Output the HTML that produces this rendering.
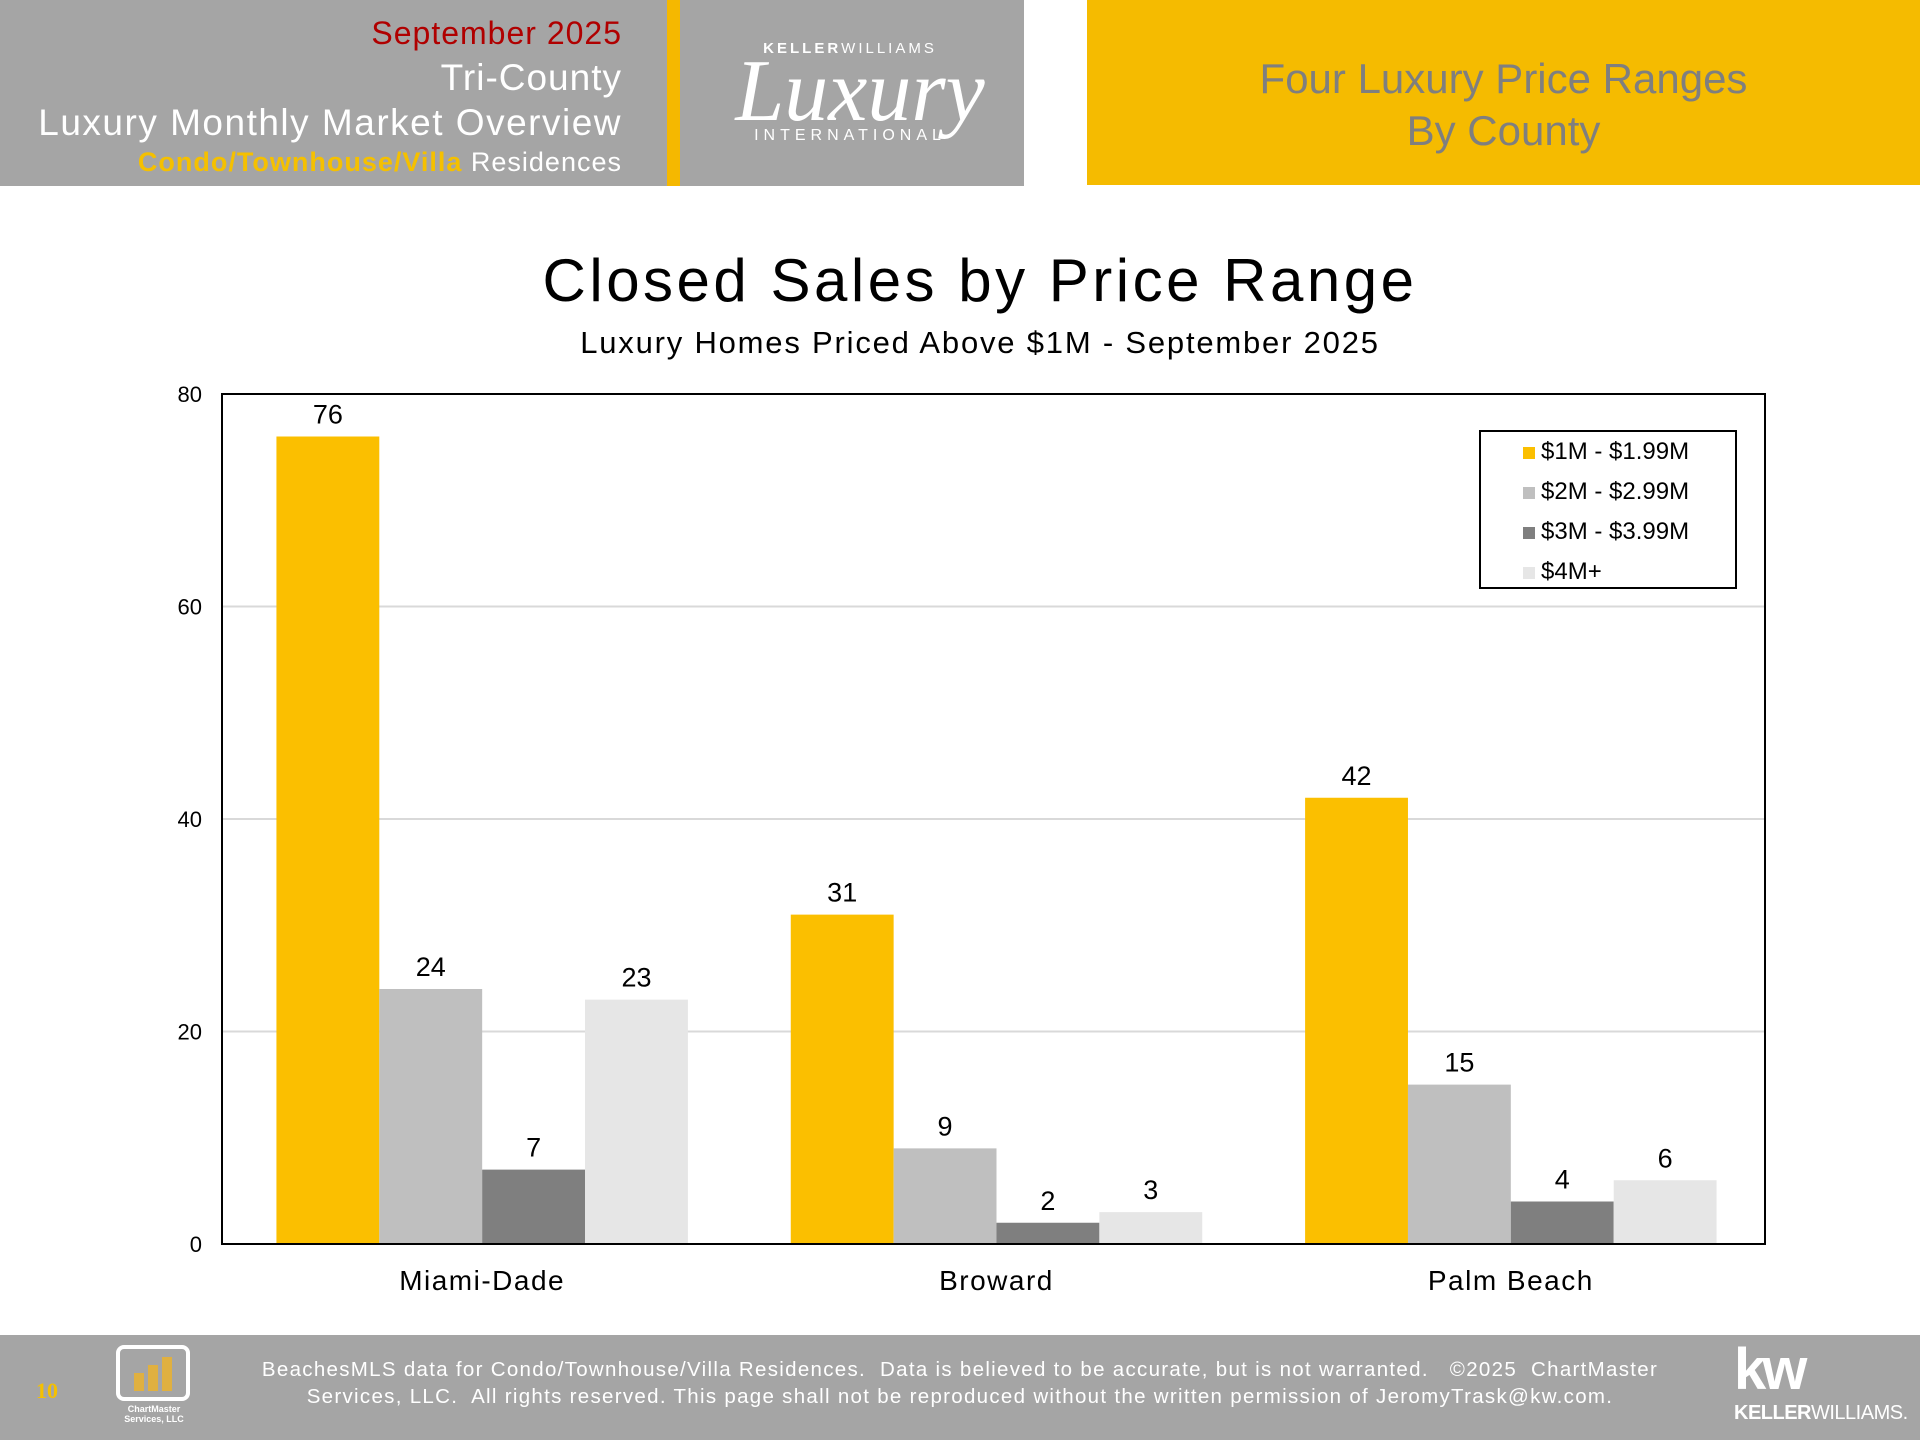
<!DOCTYPE html>
<html><head><meta charset="utf-8"><style>
*{margin:0;padding:0;box-sizing:border-box}
body{width:1920px;height:1440px;background:#fff;position:relative;overflow:hidden;font-family:"Liberation Sans","DejaVu Sans",sans-serif}
.abs{position:absolute}
</style></head><body>
<div class="abs" style="left:0;top:0;width:1024px;height:186px;background:#a5a5a5"></div>
<div class="abs" style="left:667px;top:0;width:13px;height:186px;background:#f5b800"></div>
<div class="abs" style="right:1298px;top:17px;text-align:right;color:#fff;line-height:1;letter-spacing:1px">
<div style="color:#b00000;font-size:32px;height:42px">September 2025</div>
<div style="font-size:37px;height:45px">Tri-County</div>
<div style="font-size:37px;height:45px;letter-spacing:1.5px">Luxury Monthly Market Overview</div>
<div style="font-size:27px"><b style="color:#f5c000">Condo/Townhouse/Villa</b> Residences</div>
</div>
<div class="abs" style="left:700px;top:40px;width:320px;color:#fff;text-align:center">
<div style="font-size:15px;letter-spacing:3px;margin-left:-20px"><b>KELLER</b>WILLIAMS</div>
<div style="font-family:'Liberation Serif',serif;font-style:italic;font-size:88px;line-height:70px;margin-left:0px">Luxury</div>
<div style="font-size:16px;letter-spacing:5px;margin-left:-20px">INTERNATIONAL</div>
</div>
<div class="abs" style="left:1087px;top:0;width:833px;height:185px;background:#f5bb00;color:#7f7f7f;text-align:center;font-size:42px;line-height:52px;padding-top:53px">
<div>Four Luxury Price Ranges<br>By County</div>
</div>

<div class="abs" style="left:0;width:1960px;top:246px;text-align:center;font-size:60px;letter-spacing:3.5px;color:#000">Closed Sales by Price Range</div>
<div class="abs" style="left:0;width:1960px;top:325px;text-align:center;font-size:31px;letter-spacing:1.8px;color:#000">Luxury Homes Priced Above $1M - September 2025</div>

<svg class="abs" id="chart" style="left:0;top:0" width="1920" height="1440"></svg>

<div class="abs" style="left:1479px;top:430px;width:258px;height:159px;border:2px solid #000;background:#fff;font-size:24px;padding:0 0 0 42px;line-height:40px">
<div><span style="display:inline-block;width:12px;height:12px;background:#fbbf00;margin-right:6px"></span>$1M - $1.99M</div>
<div><span style="display:inline-block;width:12px;height:12px;background:#bfbfbf;margin-right:6px"></span>$2M - $2.99M</div>
<div><span style="display:inline-block;width:12px;height:12px;background:#7f7f7f;margin-right:6px"></span>$3M - $3.99M</div>
<div><span style="display:inline-block;width:12px;height:12px;background:#e6e6e6;margin-right:6px"></span>$4M+</div>
</div>

<div class="abs" style="left:0;top:1335px;width:1920px;height:105px;background:#a5a5a5"></div>
<div class="abs" style="left:36px;top:1378px;color:#f5c000;font-family:'Liberation Serif',serif;font-weight:bold;font-size:22px">10</div>
<div class="abs" style="left:116px;top:1345px;width:74px;height:56px;border:4px solid #fff;border-radius:8px">
<div style="position:absolute;left:14px;bottom:6px;width:10px;height:18px;background:#e0b040"></div>
<div style="position:absolute;left:28px;bottom:6px;width:10px;height:26px;background:#e0b040"></div>
<div style="position:absolute;left:42px;bottom:6px;width:10px;height:34px;background:#e0b040"></div>
</div>
<div class="abs" style="left:112px;top:1404px;width:84px;text-align:center;color:#fff;font-size:9px;line-height:10px;font-weight:bold">ChartMaster<br>Services, LLC</div>
<div class="abs" style="left:160px;width:1600px;top:1356px;text-align:center;color:#fff;font-size:20.5px;letter-spacing:1.3px;line-height:27px">BeachesMLS data for Condo/Townhouse/Villa Residences.&nbsp; Data is believed to be accurate, but is not warranted.&nbsp;&nbsp; ©2025&nbsp; ChartMaster<br>Services, LLC.&nbsp; All rights reserved. This page shall not be reproduced without the written permission of JeromyTrask@kw.com.</div>
<div class="abs" style="left:1734px;top:1336px;color:#fff;font-size:58px;font-weight:bold;letter-spacing:-4px">kw</div>
<div class="abs" style="left:1734px;top:1402px;color:#fff;font-size:20px;letter-spacing:-0.5px"><b>KELLER</b>WILLIAMS.</div>

<script>
const categories = ["Miami-Dade","Broward","Palm Beach"];
const series1M = [76,31,42];
const series2M = [24,9,15];
const series3M = [7,2,4];
const series4M = [23,3,6];
const yTicks = [0,20,40,60,80];
const seriesNames = ["1m","2m","3m","4m"];
const colors = ["#fbbf00","#bfbfbf","#7f7f7f","#e6e6e6"];
const allSeries = [series1M,series2M,series3M,series4M];

const svg = document.getElementById('chart');
const NS = "http://www.w3.org/2000/svg";
const L=222, R=1765, T=394, B=1244, yMax=80;
const y = v => B - (v/yMax)*(B-T);
const groupW = (R-L)/categories.length;
const barW = groupW*0.8/allSeries.length;
const x = (ci,si) => L + ci*groupW + groupW*0.1 + 3 + si*barW;
function mk(tag, attrs){const e=document.createElementNS(NS,tag);for(const k in attrs)e.setAttribute(k,attrs[k]);svg.appendChild(e);return e;}

yTicks.forEach(t=>{
  if(t>0 && t<yMax){
    const g=mk('line',{x1:L,x2:R,y1:y(t),y2:y(t),stroke:'#d9d9d9','stroke-width':2});
    
    
  }
  const tx=mk('text',{x:L-20,y:y(t)+8,'text-anchor':'end','font-size':22,fill:'#000','font-family':'Liberation Sans, sans-serif'});
  tx.textContent=t;
  
  
});

allSeries.forEach((s,si)=>{
  s.forEach((v,ci)=>{
    const r=mk('rect',{x:x(ci,si),y:y(v),width:barW,height:B-y(v),fill:colors[si]});
    
    
    const t=mk('text',{x:x(ci,si)+barW/2,y:y(v)-13,'text-anchor':'middle','font-size':27,fill:'#000','font-family':'Liberation Sans, sans-serif'});
    t.textContent=v;
    
    
  });
});

categories.forEach((c,ci)=>{
  const t=mk('text',{x:L+ci*groupW+groupW/2+3,y:1290,'text-anchor':'middle','font-size':28,'letter-spacing':1.5,fill:'#000','font-family':'Liberation Sans, sans-serif'});
  t.textContent=c;
  
  
});

const frame=mk('rect',{x:L,y:T,width:R-L,height:B-T,fill:'none',stroke:'#000','stroke-width':2});


</script>
</body></html>
